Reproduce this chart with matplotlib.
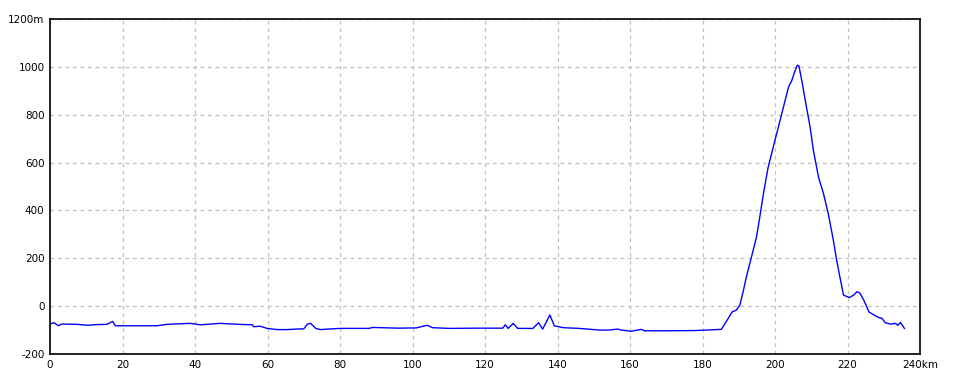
import matplotlib
matplotlib.use("Agg")
import matplotlib.pyplot as plt

## elevation profile points (km, m) ##

dist = [0, 1.1, 2.3, 3.2, 7.4, 10.4, 13, 15.7, 17.3, 18, 29.5, 32.3, 38.7, 41.5, 47,
        52, 55.8, 56.2, 58, 59.9, 62.7, 65.4, 69.1, 70, 71, 71.9, 73.3, 74.6, 76.5,
        80, 88, 89, 96, 101, 104.1, 105.5, 110, 117, 124.9, 125.6, 126.4, 127.8, 129,
        133.2, 134.8, 135.9, 137.9, 139.1, 141.6, 146, 151.6, 154, 156.7, 157.6, 160.3,
        163.1, 164, 170, 178, 185.2, 187.1, 188.2, 189.3, 190.3, 191.2, 192.1, 193.5,
        194.9, 195.8, 196.8, 198.1, 199.5, 200.9, 202.3, 203.7, 204.6, 205.5, 206.2,
        206.6, 207.4, 208.7, 209.7, 210.6, 212, 213.4, 214.7, 216.1, 217, 217.9, 218.9,
        220.5, 221.7, 222.6, 223.4, 224.5, 225.9, 227.3, 228.5, 229.5, 230.4, 231.8,
        233.2, 233.9, 234.6, 235.7]
elev = [-75, -69, -82, -75, -76, -80, -77, -76, -64, -82, -82, -76, -72, -78, -72,
        -76, -78, -86, -84, -93, -98, -98, -95, -95, -75, -72, -93, -98, -96,
        -93, -93, -89, -92, -91, -80, -90, -93, -92, -92, -78, -93, -72, -93,
        -93, -69, -96, -37, -82, -90, -93, -100, -100, -96, -100, -105,
        -97, -103, -103, -102, -97, -51, -24, -17, 4, 60, 122, 205,
        289, 372, 469, 580, 664, 747, 830, 914, 942, 983, 1007,
        1004, 942, 830, 747, 650, 539, 469, 386, 275, 192, 122, 46,
        36, 46, 60, 55, 25, -24, -37, -47, -51, -69, -75,
        -72, -80, -68, -93]

xticks = [0, 20, 40, 60, 80, 100, 120, 140, 160, 180, 200, 220, 240]
xlabels = [str(v) for v in xticks[:-1]] + ["240km"]
yticks = [-200, 0, 200, 400, 600, 800, 1000, 1200]
ylabels = [str(v) for v in yticks[:-1]] + ["1200m"]

## figure ##

fig = plt.figure(figsize=(9.6, 3.84), dpi=100)
ax = fig.add_axes([50/960, 1 - 354/384, 870/960, 335/384])

ax.plot(dist, elev, color="#0000ff", linewidth=1.0)

ax.set_xlim(0, 240)
ax.set_ylim(-200, 1200)
ax.set_xticks(xticks)
ax.set_xticklabels(xlabels)
ax.set_yticks(yticks)
ax.set_yticklabels(ylabels)
ax.tick_params(length=0, labelsize=7.5, pad=4)

ax.grid(True, color="#c0c0c0", linestyle=(0, (3, 3)), linewidth=0.9)
for s in ax.spines.values():
    s.set_linewidth(1.2)
    s.set_color("black")

fig.savefig("out.png", dpi=100)
